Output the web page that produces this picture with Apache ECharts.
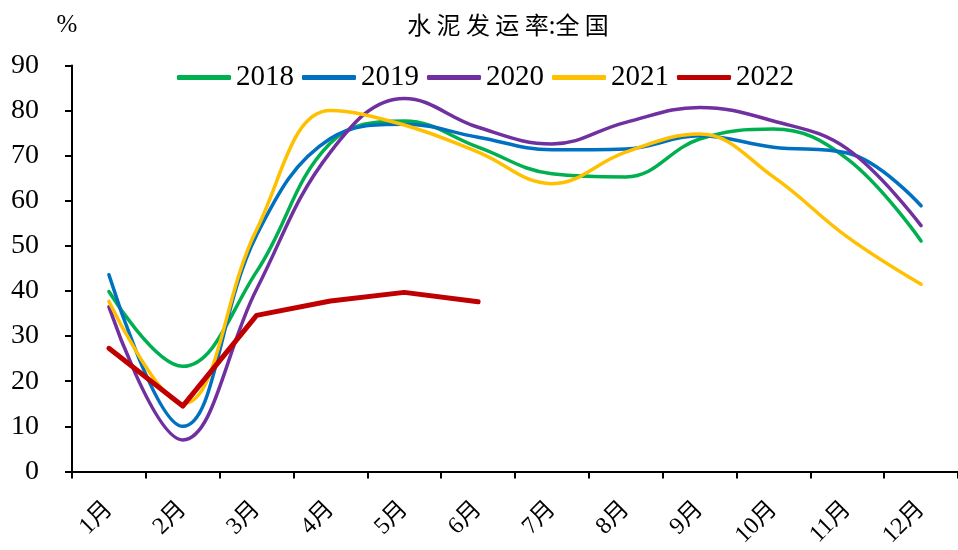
<!DOCTYPE html>
<html>
<head>
<meta charset="utf-8">
<script src="https://cdn.jsdelivr.net/npm/echarts@6/dist/echarts.min.js"></script>
<style>
  html, body { margin: 0; padding: 0; background: #fff; }
  #chart { width: 958px; height: 550px; }
</style>
</head>
<body>
<div id="chart"></div>
<script>
// Monthly cement shipment rate, national (%)
const months = ['1月', '2月', '3月', '4月', '5月', '6月', '7月', '8月', '9月', '10月', '11月', '12月'];
const yTicks = [0, 10, 20, 30, 40, 50, 60, 70, 80, 90];
const rate2018 = [39.9, 23.3, 44.3, 72.8, 77.7, 71.9, 66.0, 65.3, 73.7, 75.9, 69.3, 51.1];
const rate2019 = [43.6, 10.0, 52.4, 73.8, 77.0, 74.1, 71.3, 71.5, 74.4, 71.9, 70.6, 58.9];
const rate2020 = [36.5, 7.0, 40.4, 70.8, 82.7, 76.3, 72.6, 77.4, 80.7, 77.7, 71.5, 54.5];
const rate2021 = [37.7, 15.0, 53.6, 80.0, 76.8, 70.8, 63.8, 70.8, 74.8, 65.3, 52.0, 41.5];
const rate2022 = [27.3, 14.5, 34.6, 37.8, 39.7, 37.6];

const serif = '"Liberation Serif", "Times New Roman", "Noto Sans CJK SC", serif';

function lineSeries(name, data, color, width, smooth) {
  return {
    name: name,
    type: 'line',
    data: data,
    smooth: smooth,
    symbol: 'none',
    lineStyle: { color: color, width: width, cap: 'round', join: 'round' },
    itemStyle: { color: color }
  };
}

const chart = echarts.init(document.getElementById('chart'), null, { renderer: 'canvas' });
chart.setOption({
  animation: false,
  backgroundColor: '#fff',
  title: {
    text: '水 泥 发 运 率:全 国',
    left: 503,
    textAlign: 'center',
    top: 8,
    textStyle: { fontFamily: '"Noto Sans CJK SC", serif', fontSize: 24, fontWeight: 'normal', color: '#000' }
  },
  legend: {
    top: 58,
    left: 172,
    icon: 'roundRect',
    itemWidth: 54,
    itemHeight: 5,
    itemGap: 8,
    textStyle: { fontFamily: serif, fontSize: 29, color: '#000' },
    data: ['2018', '2019', '2020', '2021', '2022']
  },
  grid: { left: 72, top: 65.5, width: 891.6, height: 410, containLabel: false },
  xAxis: {
    type: 'category',
    data: months,
    boundaryGap: true,
    axisLine: { show: true, lineStyle: { color: '#000', width: 2 } },
    axisTick: { show: true, length: 7, inside: false, lineStyle: { color: '#000', width: 2 } },
    axisLabel: { rotate: 45, margin: 34, interval: 0, fontFamily: serif, fontSize: 24, color: '#000' },
    splitLine: { show: false }
  },
  yAxis: {
    type: 'value',
    min: yTicks[0],
    max: yTicks[yTicks.length - 1],
    interval: 10,
    name: '%',
    nameLocation: 'end',
    nameGap: 28,
    nameTextStyle: { fontFamily: serif, fontSize: 25, color: '#000', align: 'center', padding: [0, 10, 0, 0] },
    axisLine: { show: true, lineStyle: { color: '#000', width: 2 } },
    axisTick: { show: true, length: 7, inside: false, lineStyle: { color: '#000', width: 2 } },
    axisLabel: { margin: 33, fontFamily: serif, fontSize: 28, color: '#000' },
    splitLine: { show: false }
  },
  series: [
    lineSeries('2018', rate2018, '#00B050', 3.5, 0.4),
    lineSeries('2019', rate2019, '#0070C0', 3.5, 0.4),
    lineSeries('2020', rate2020, '#7030A0', 3.5, 0.4),
    lineSeries('2021', rate2021, '#FFC000', 3.5, 0.4),
    lineSeries('2022', rate2022, '#C00000', 5, false)
  ]
});
</script>
</body>
</html>
